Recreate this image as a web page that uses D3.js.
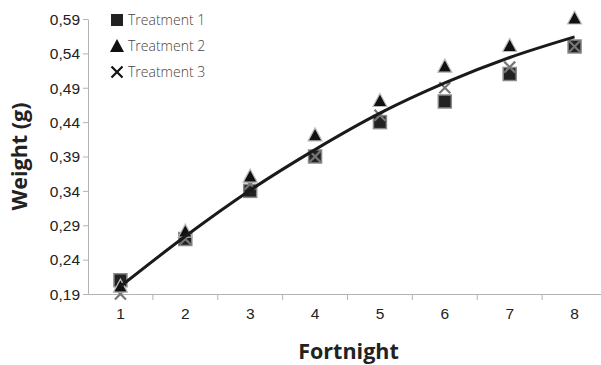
<!DOCTYPE html>
<html>
<head>
<meta charset="utf-8">
<script src="https://cdnjs.cloudflare.com/ajax/libs/d3/7.8.5/d3.min.js"></script>
<style>
	body { margin: 0; background: #fff; }
	svg { display: block; font-family: "Open Sans", "Noto Sans", sans-serif; }
</style>
</head>
<body>
<div id="chart-area"></div>
<script>
// values
const fortnights = [1, 2, 3, 4, 5, 6, 7, 8];
const treatment1 = [0.21, 0.27, 0.34, 0.39, 0.44, 0.47, 0.51, 0.55];
const treatment2 = [0.20, 0.28, 0.36, 0.42, 0.47, 0.52, 0.55, 0.59];
const treatment3 = [0.19, 0.27, 0.35, 0.39, 0.45, 0.49, 0.52, 0.55];
const trendLine = [0.201, 0.274, 0.341, 0.400, 0.453, 0.497, 0.534, 0.564];
const yTicks = [0.19, 0.24, 0.29, 0.34, 0.39, 0.44, 0.49, 0.54, 0.59];
const seriesNames = ["Treatment 1", "Treatment 2", "Treatment 3"];

const margin = { left: 88, right: -6, top: 19, bottom: 71 };
const W = 601, H = 365;
const width = W - margin.left - margin.right;
const height = H - margin.top - margin.bottom;

const svg = d3.select("#chart-area")
	.append("svg")
	.attr("width", W)
	.attr("height", H);

const g = svg.append("g")
	.attr("transform", `translate(${margin.left}, ${margin.top})`);

const x = d3.scaleBand().domain(fortnights).range([0, width]);
const y = d3.scaleLinear().domain([0.19, 0.59]).range([height, 0]);
const cx = d => x(d) + x.bandwidth() / 2;

// axes
const fmt = d => d3.format(".2f")(d).replace(".", ",");
const yAxis = g.append("g")
	.attr("class", "y-axis")
	.call(d3.axisLeft(y).tickValues(yTicks).tickFormat(fmt).tickSize(5).tickSizeOuter(0));
yAxis.select(".domain").attr("stroke", "#b3b3b3");
yAxis.selectAll(".tick line").attr("stroke", "#b3b3b3");
yAxis.selectAll("text")
	.attr("font-size", "15.5px")
	.attr("fill", "#222")
	.attr("x", -8)
	.attr("dy", "0.34em");

const xAxis = g.append("g")
	.attr("class", "x-axis")
	.attr("transform", `translate(0, ${height})`)
	.call(d3.axisBottom(x).tickSize(0).tickSizeOuter(0));
xAxis.select(".domain").attr("stroke", "#b3b3b3");
xAxis.selectAll("text")
	.attr("font-size", "15.5px")
	.attr("fill", "#222")
	.attr("y", 14)
	.attr("dy", "0.71em");

// ticks between categories
g.append("g")
	.selectAll("line")
	.data(fortnights.slice(1))
	.enter()
	.append("line")
	.attr("x1", d => x(d))
	.attr("x2", d => x(d))
	.attr("y1", height)
	.attr("y2", height + 6)
	.attr("stroke", "#b3b3b3");

// axis titles
g.append("text")
	.attr("x", width / 2 + 1)
	.attr("y", height + 65)
	.attr("font-size", "21.5px")
	.attr("font-weight", "bold")
	.attr("text-anchor", "middle")
	.attr("fill", "#222")
	.text("Fortnight");

g.append("text")
	.attr("x", -(height / 2))
	.attr("y", -61)
	.attr("font-size", "21.5px")
	.attr("font-weight", "bold")
	.attr("text-anchor", "middle")
	.attr("fill", "#222")
	.attr("transform", "rotate(-90)")
	.text("Weight (g)");

// markers
const square = sel => sel.append("rect")
	.attr("x", -6.5).attr("y", -6.5)
	.attr("width", 13).attr("height", 13)
	.attr("fill", "#222").attr("stroke", "#8a8a8a").attr("stroke-width", 1.5);
const triangle = sel => sel.append("path")
	.attr("d", "M0,-8L7,5L-7,5Z")
	.attr("fill", "#111").attr("stroke", "#bbb").attr("stroke-width", 1.2);
const cross = (sel, c) => sel.append("path")
	.attr("d", "M-5.5,-5.5L5.5,5.5M-5.5,5.5L5.5,-5.5")
	.attr("fill", "none").attr("stroke", c).attr("stroke-width", 2.2);

const series = [
	{ values: treatment1, draw: s => square(s) },
	{ values: treatment3, draw: s => cross(s, "#777") },
	{ values: treatment2, draw: s => triangle(s) }
];

series.forEach(sr => {
	g.append("g")
		.selectAll("g")
		.data(fortnights.map((f, i) => ({ f: f, v: sr.values[i] })))
		.enter()
		.append("g")
		.attr("transform", d => `translate(${cx(d.f)}, ${y(d.v)})`)
		.call(sr.draw);
});

// trend line
const line = d3.line()
	.x((d, i) => cx(fortnights[i]))
	.y(d => y(d))
	.curve(d3.curveMonotoneX);
g.append("path")
	.datum(trendLine)
	.attr("d", line)
	.attr("fill", "none")
	.attr("stroke", "#1a1a1a")
	.attr("stroke-width", 3);

// legend
const legend = svg.append("g").attr("transform", "translate(117, 20)");
seriesNames.forEach((name, i) => {
	const row = legend.append("g").attr("transform", `translate(0, ${i * 26})`);
	if (i === 0) {
		row.append("rect").attr("x", -6).attr("y", -6).attr("width", 12).attr("height", 12).attr("fill", "#222");
	} else if (i === 1) {
		row.append("path").attr("d", "M0,-7L7,6L-7,6Z").attr("fill", "#111");
	} else {
		cross(row, "#111");
	}
	row.append("text")
		.attr("x", 11)
		.attr("dy", "0.35em")
		.attr("font-size", "14px")
		.attr("fill", "#444")
		.attr("font-weight", 300)
		.text(name);
});
</script>
</body>
</html>
